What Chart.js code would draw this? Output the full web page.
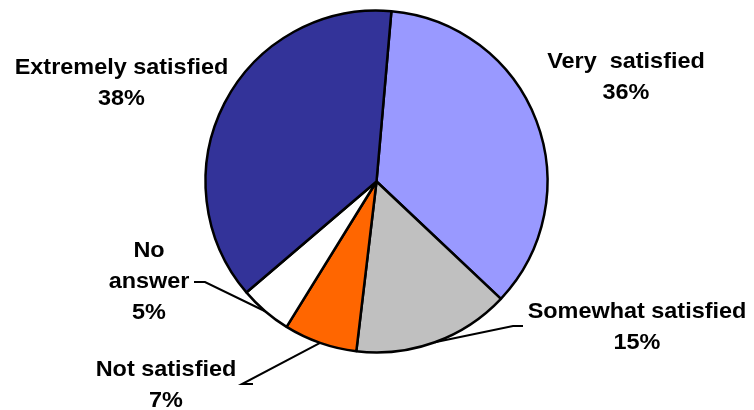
<!DOCTYPE html>
<html>
<head>
<meta charset="utf-8">
<script src="https://cdn.jsdelivr.net/npm/chart.js@4/dist/chart.umd.min.js"></script>
<style>
  html, body { margin: 0; padding: 0; background: #fff; }
  #wrap { width: 754px; height: 410px; }
</style>
</head>
<body>
<div id="wrap"><canvas id="myChart" width="754" height="410"></canvas></div>
<script>
// data
var categories = ['Very  satisfied', 'Somewhat satisfied', 'Not satisfied', ['No', 'answer'], 'Extremely satisfied'];
var shares = [36, 15, 7, 5, 38];
var sliceColors = ['#9999FF', '#C0C0C0', '#FF6600', '#FFFFFF', '#333399'];

// where each label sits, relative to the pie centre (dx, dy of first baseline)
// lead = short horizontal stub next to the text: [x1, x2, y] relative to centre
var labelLayout = [
    { dx: 249.5, dy: -113.2 },
    { dx: 260.5, dy: 136.8, lead: [146.5, 136.5, 144.5] },
    { dx: -210.5, dy: 194.5, lead: [-123.5, -134.5, 202.5] },
    { dx: -227.5, dy: 75.5, lead: [-182.5, -171.5, 100.5] },
    { dx: -255, dy: -107.2 }
];

var pieLabels = {
    id: 'pieLabels',
    afterDraw: function(chart) {
        var ctx = chart.ctx;
        var meta = chart.getDatasetMeta(0);
        ctx.save();
        ctx.fillStyle = '#000';
        ctx.strokeStyle = '#000';
        ctx.lineWidth = 2;
        ctx.font = 'bold 22px "Liberation Sans", Arial, sans-serif';
        ctx.textAlign = 'center';
        ctx.textBaseline = 'alphabetic';
        meta.data.forEach(function(arc, i) {
            var p = arc.getProps(['x', 'y', 'startAngle', 'endAngle', 'outerRadius'], true);
            var lay = labelLayout[i];
            var lines = [].concat(categories[i]);
            lines.push(shares[i] + '%');
            lines.forEach(function(t, k) {
                ctx.save();
                ctx.translate(p.x + lay.dx, p.y + lay.dy + k * 31);
                ctx.scale(1.065, 1);
                ctx.fillText(t, 0, 0);
                ctx.restore();
            });
            if (lay.lead) {
                var mid = (p.startAngle + p.endAngle) / 2;
                var ex = p.x + Math.cos(mid) * p.outerRadius;
                var ey = p.y + Math.sin(mid) * p.outerRadius;
                ctx.beginPath();
                ctx.moveTo(p.x + lay.lead[0], p.y + lay.lead[2]);
                ctx.lineTo(p.x + lay.lead[1], p.y + lay.lead[2]);
                ctx.lineTo(ex, ey);
                ctx.stroke();
            }
        });
        ctx.restore();
    }
};

var ctx = document.getElementById('myChart').getContext('2d');
var myChart = new Chart(ctx, {
    type: 'pie',
    data: {
        labels: categories,
        datasets: [{
            data: shares,
            backgroundColor: sliceColors,
            borderColor: '#000',
            borderWidth: 2.5,
            hoverOffset: 0
        }]
    },
    options: {
        responsive: false,
        animation: false,
        rotation: 5,
        radius: 171,
        layout: { padding: { top: 0, bottom: 47, left: 0, right: 1 } },
        plugins: {
            legend: { display: false },
            tooltip: { enabled: false }
        }
    },
    plugins: [pieLabels]
});
</script>
</body>
</html>
